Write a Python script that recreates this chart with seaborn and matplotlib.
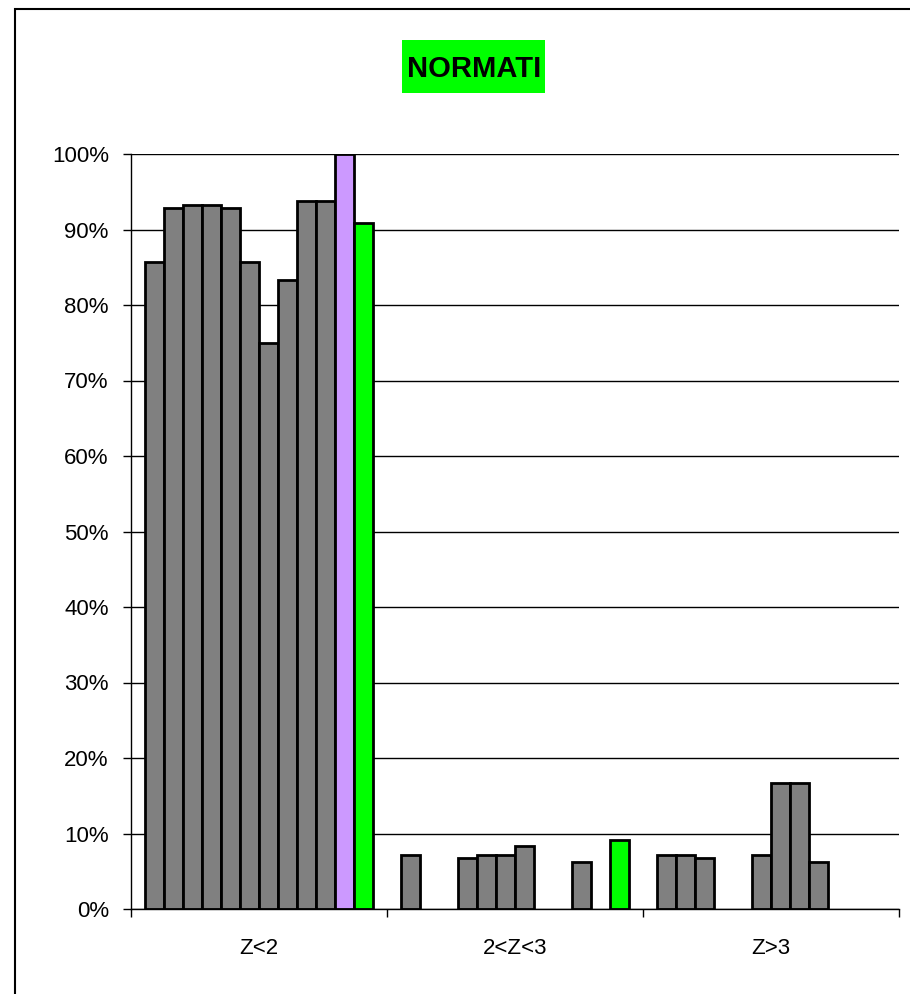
import matplotlib
matplotlib.use("Agg")
import matplotlib.pyplot as plt
import matplotlib.patches as mpatches
from matplotlib.ticker import PercentFormatter, FixedLocator
import seaborn as sns
import pandas as pd

categories = ["Z<2", "2<Z<3", "Z>3"]
series = [f"S{i}" for i in range(1, 13)]
# percentage values per series, one entry per category
vals_z_lt2 = [85.7, 92.9, 93.3, 93.3, 92.9, 85.7, 75.0, 83.3, 93.75, 93.75, 100.0, 90.9]
vals_z_2_3 = [7.1, 0.0, 0.0, 6.7, 7.1, 7.1, 8.3, 0.0, 0.0, 6.25, 0.0, 9.1]
vals_z_gt3 = [7.1, 7.1, 6.7, 0.0, 0.0, 7.1, 16.7, 16.7, 6.25, 0.0, 0.0, 0.0]
colors = ["#808080"] * 10 + ["#CC99FF", "#00FF00"]

rows = []
for cat, vals in zip(categories, [vals_z_lt2, vals_z_2_3, vals_z_gt3]):
    for s, v in zip(series, vals):
        rows.append({"cat": cat, "series": s, "value": v})
df = pd.DataFrame(rows)

sns.set_style("white")
plt.rcParams["font.family"] = ["Liberation Sans", "DejaVu Sans"]
plt.rcParams["text.color"] = "black"
plt.rcParams["xtick.labelcolor"] = "black"
plt.rcParams["ytick.labelcolor"] = "black"

fig = plt.figure(figsize=(9.10, 9.94), dpi=100)
ax = fig.add_axes([131/910, 1-909/994, (899-131)/910, (909-154)/994])

sns.barplot(data=df, x="cat", y="value", hue="series", order=categories,
            hue_order=series, palette=colors, width=0.89, gap=0,
            edgecolor="black", linewidth=2, saturation=1, legend=False, ax=ax)

# hide outlines of empty (zero-height) bars, as Excel draws nothing there
for p in ax.patches:
    if p.get_height() == 0:
        p.set_linewidth(0)

ax.set_ylim(0, 100)
ax.set_xlim(-0.5, 2.5)
ax.set_yticks(range(0, 101, 10))
ax.yaxis.set_major_formatter(PercentFormatter(decimals=0))
ax.grid(axis="y", color="black", linewidth=1)
ax.set_axisbelow(True)
ax.set_xlabel("")
ax.set_ylabel("")

for side in ["top", "right"]:
    ax.spines[side].set_visible(False)
for side in ["left", "bottom"]:
    ax.spines[side].set_color("black")
    ax.spines[side].set_linewidth(1)

ax.tick_params(axis="y", which="major", direction="out", length=6, width=1,
               color="black", labelsize=16, left=True, pad=10)
ax.tick_params(axis="x", which="major", length=0, labelsize=16, pad=21)
ax.xaxis.set_minor_locator(FixedLocator([-0.5, 0.5, 1.5, 2.5]))
ax.tick_params(axis="x", which="minor", direction="out", length=6, width=1,
               color="black", bottom=True)

# title with green background box
fig.patches.append(mpatches.Rectangle((402/910, 1-93/994), 143/910, 53/994,
                                      transform=fig.transFigure,
                                      facecolor="#00FF00", edgecolor="none"))
fig.text(474/910, 1-66/994, "NORMATI", ha="center", va="center_baseline",
         fontsize=21, fontweight="bold", color="black")

fig.patches.append(mpatches.Rectangle((15/910, -0.1), 1.2, 1 - 9/994 + 0.1,
                                      transform=fig.transFigure, fill=False,
                                      edgecolor="black", linewidth=1.5))

fig.savefig("out.png", dpi=100)
